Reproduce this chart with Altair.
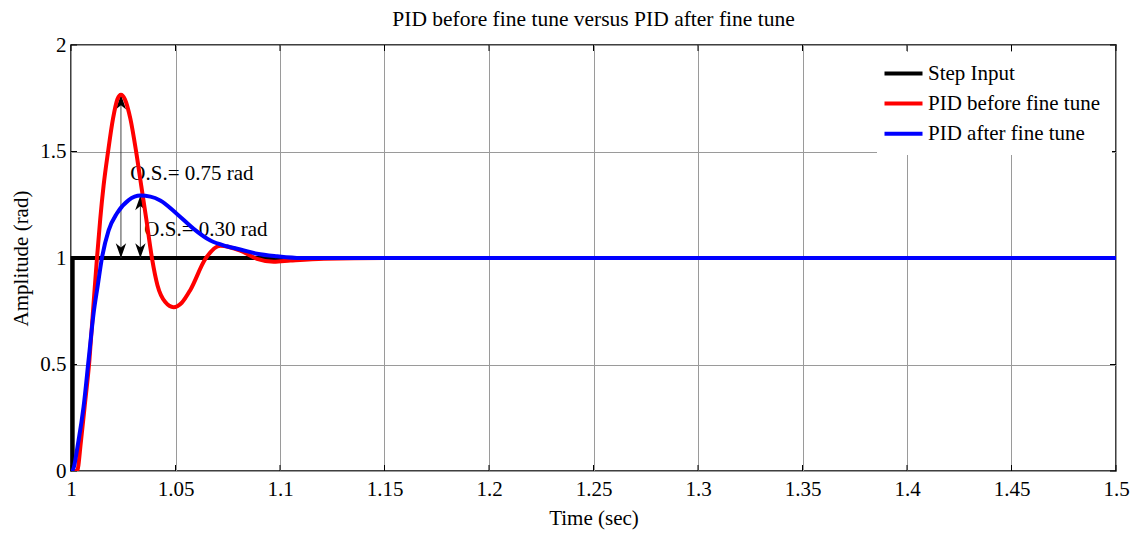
import altair as alt
import pandas as pd

# ---- data ----
series_names = ["Step Input", "PID before fine tune", "PID after fine tune"]
series_colors = ["#000000", "#ff0000", "#0000ff"]

t_step = [1.0008, 1.0008, 1.5]
y_step = [0.0, 1.0, 1.0]

t_before = [1.000, 1.0029, 1.0048, 1.0065, 1.0088, 1.0106, 1.0124, 1.014, 1.0156, 1.0177,
            1.0201, 1.0222, 1.0239, 1.0258, 1.0284, 1.0312, 1.0336, 1.036, 1.0388, 1.0414,
            1.0451, 1.0491, 1.053, 1.0571, 1.0643, 1.0714, 1.081, 1.089, 1.097, 1.105,
            1.121, 1.15, 1.5]
y_before = [0.0, 0.0, 0.143, 0.3, 0.52, 0.76, 0.996, 1.184, 1.34, 1.497,
            1.654, 1.745, 1.766, 1.745, 1.654, 1.497, 1.34, 1.184, 0.996, 0.871,
            0.793, 0.769, 0.79, 0.85, 0.996, 1.058, 1.035, 0.996, 0.982, 0.988,
            0.997, 1.0, 1.0]

t_after = [1.0, 1.0005, 1.0036, 1.006, 1.0084, 1.0108, 1.0128, 1.0148, 1.018, 1.022,
           1.0276, 1.0332, 1.038, 1.0427, 1.0507, 1.0587, 1.0667, 1.0746, 1.081, 1.089,
           1.0986, 1.11, 1.13, 1.5]
y_after = [0.0, 0.0, 0.143, 0.3, 0.52, 0.74, 0.871, 1.0, 1.13, 1.21,
           1.272, 1.293, 1.288, 1.27, 1.207, 1.137, 1.082, 1.055, 1.04, 1.02,
           1.008, 1.0, 1.0, 1.0]

# overshoot annotations
os_time = [1.0239, 1.0332]
os_peak = [1.766, 1.293]
os_base = [1.0, 1.0]
os_text = ["O.S.= 0.75 rad", "O.S.= 0.30 rad"]
os_text_t = [1.0284, 1.0351]
os_text_y = [1.364, 1.104]

x_ticks = [1.0, 1.05, 1.1, 1.15, 1.2, 1.25, 1.3, 1.35, 1.4, 1.45, 1.5]
y_ticks = [0.0, 0.5, 1.0, 1.5, 2.0]

# ---- tables ----
rows = []
for name, ts, ys in [(series_names[0], t_step, y_step),
                     (series_names[1], t_before, y_before),
                     (series_names[2], t_after, y_after)]:
    for i, (t, y) in enumerate(zip(ts, ys)):
        rows.append({"t": t, "y": y, "series": name, "idx": i})
lines_df = pd.DataFrame(rows)

ann_df = pd.DataFrame({"t": os_time, "peak": os_peak, "base": os_base})
txt_df = pd.DataFrame({"t": os_text_t, "y": os_text_y, "label": os_text})
xt_df = pd.DataFrame({"t": x_ticks})
yt_df = pd.DataFrame({"y": y_ticks})

W, H = 1045, 426
FONT = "Liberation Serif"

xscale = alt.Scale(domain=[1.0, 1.5], nice=False, zero=False)
yscale = alt.Scale(domain=[0.0, 2.0], nice=False, zero=False)
cscale = alt.Scale(domain=series_names, range=series_colors)

x_axis = alt.Axis(values=x_ticks, format="~g", title="Time (sec)", grid=True,
                  gridColor="#9a9a9a", gridWidth=1, ticks=False, domain=False,
                  labelFont=FONT, labelFontSize=21, labelColor="black", labelPadding=7,
                  labelFlush=False, labelOverlap=False,
                  titleFont=FONT, titleFontSize=21, titleFontWeight="normal",
                  titleColor="black", titlePadding=8)
y_axis = alt.Axis(values=y_ticks, format="~g", title="Amplitude (rad)", grid=True,
                  gridColor="#9a9a9a", gridWidth=1, ticks=False, domain=False,
                  labelFont=FONT, labelFontSize=21, labelColor="black", labelPadding=5,
                  labelFlush=False, labelOverlap=False,
                  titleFont=FONT, titleFontSize=21, titleFontWeight="normal",
                  titleColor="black", titlePadding=8)

legend = alt.Legend(title=None, orient="none", legendX=806, legendY=7,
                    symbolType="M-2,0 L2,0", symbolSize=361, symbolStrokeWidth=4,
                    labelFont=FONT, labelFontSize=21, labelColor="black",
                    labelOffset=13, padding=10, rowPadding=8.1,
                    symbolOffset=5,
                    fillColor="white", strokeColor="white", labelLimit=400)

X = lambda f="t:Q": alt.X(f, scale=xscale, axis=x_axis)
Y = lambda f="y:Q": alt.Y(f, scale=yscale, axis=y_axis)

def series_layer(name):
    return (alt.Chart(lines_df)
            .transform_filter(alt.datum.series == name)
            .mark_line(strokeWidth=4, strokeCap="butt",
                       interpolate="linear" if name == "Step Input" else "monotone",
                       clip=name != "Step Input")
            .encode(x=X(), y=Y(),
                    color=alt.Color("series:N", scale=cscale, legend=legend),
                    order=alt.Order("idx:Q")))

step = series_layer(series_names[0])
before = series_layer(series_names[1])
after = series_layer(series_names[2])

shafts = alt.Chart(ann_df).mark_rule(color="#444444", strokeWidth=1).encode(
    x=X(), y=Y("base:Q"), y2="peak:Q")

up_head = alt.Chart(ann_df).mark_point(
    shape="M0,0 L-0.6,1.7 L0,1.2 L0.6,1.7 Z", filled=True, color="black",
    size=300, opacity=1).encode(x=X(), y=Y("peak:Q"))

down_head = alt.Chart(ann_df).mark_point(
    shape="M0,0 L-0.6,-1.7 L0,-1.2 L0.6,-1.7 Z", filled=True, color="black",
    size=300, opacity=1).encode(x=X(), y=Y("base:Q"))

texts = alt.Chart(txt_df).mark_text(
    font=FONT, fontSize=21, color="black", align="left", baseline="alphabetic").encode(
    x=X(), y=Y(), text="label:N")

# inward tick marks (MATLAB style), positioned through the scales
tick_len = 6
xt_bottom = alt.Chart(xt_df).mark_rule(color="black", strokeWidth=1).encode(
    x=X(), y=alt.value(H), y2=alt.value(H - tick_len))
xt_top = alt.Chart(xt_df).mark_rule(color="black", strokeWidth=1).encode(
    x=X(), y=alt.value(0), y2=alt.value(tick_len))
yt_left = alt.Chart(yt_df).mark_rule(color="black", strokeWidth=1).encode(
    y=Y(), x=alt.value(0), x2=alt.value(tick_len))
yt_right = alt.Chart(yt_df).mark_rule(color="black", strokeWidth=1).encode(
    y=Y(), x=alt.value(W), x2=alt.value(W - tick_len))

chart = alt.layer(
    xt_bottom, xt_top, yt_left, yt_right, step,
    shafts, up_head, down_head, texts, before, after
).resolve_scale(color="shared").properties(
    width=W, height=H,
    title=alt.Title("PID before fine tune versus PID after fine tune",
                    font=FONT, fontSize=21.5, fontWeight="normal", color="black",
                    anchor="middle", offset=4),
    autosize=alt.AutoSizeParams(type="none"),
    padding={"left": 71, "top": 45, "right": 25, "bottom": 62},
).configure(background="white").configure_view(stroke="black", strokeWidth=1.5)

chart.save("out.html", embed_options={"renderer": "svg", "actions": False})
